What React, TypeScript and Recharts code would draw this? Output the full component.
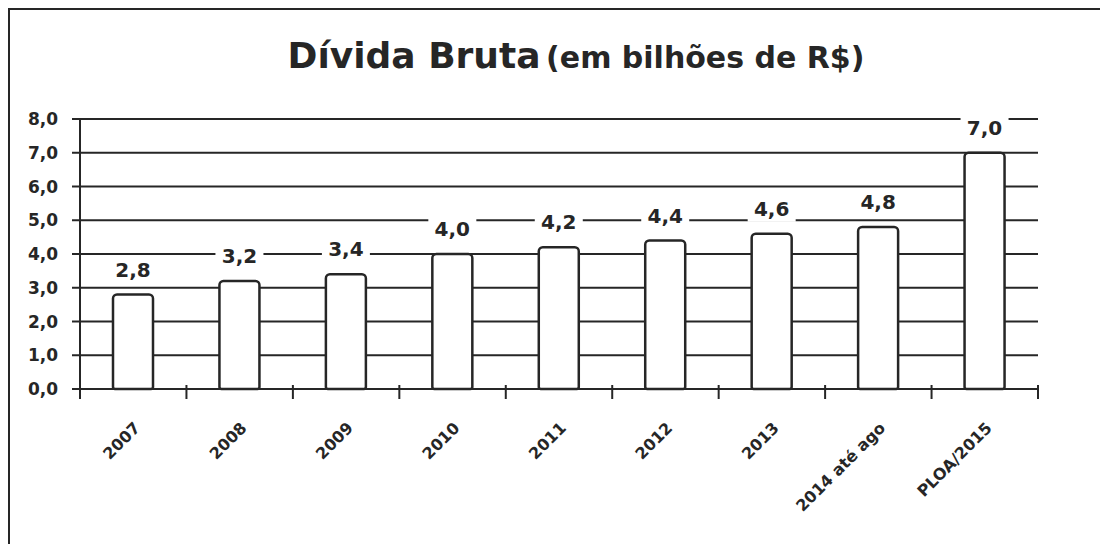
import React from "react";
import {
    ComposedChart,
    Bar,
    XAxis,
    YAxis,
    CartesianGrid,
    LabelList,
} from "recharts";

const periods = [
    "2007",
    "2008",
    "2009",
    "2010",
    "2011",
    "2012",
    "2013",
    "2014 até ago",
    "PLOA/2015",
];
const dividaBruta = [2.8, 3.2, 3.4, 4.0, 4.2, 4.4, 4.6, 4.8, 7.0];
const yTicks = [0, 1, 2, 3, 4, 5, 6, 7, 8];

const data = periods.map((p, i) => ({ periodo: p, valor: dividaBruta[i] }));

const INK = "#262626";
const FONT = "'DejaVu Sans', sans-serif";
const W = 1092;
const H = 536;
const M = { top: 111, right: 62, bottom: 0, left: 0 };
const Y_W = 72;
const X_H = 155;

const fmt = (v: number) => v.toFixed(1).replace(".", ",");

// ticks sit on the category boundaries, labels are slanted under each bar
const XTick = (props: any) => {
    const { x, y, payload, index } = props;
    const step = (W - M.left - M.right - Y_W) / periods.length;
    const left = x - step / 2;
    const ax = y - 4;
    const tx = x + 8;
    const ty = ax + 38;
    return (
        <g>
            <line x1={left} y1={ax - 6} x2={left} y2={ax + 8} stroke={INK} strokeWidth={2} />
            {index === periods.length - 1 && (
                <line x1={left + step} y1={ax - 6} x2={left + step} y2={ax + 8} stroke={INK} strokeWidth={2} />
            )}
            <text
                x={tx}
                y={ty}
                transform={`rotate(-45 ${tx} ${ty})`}
                textAnchor="end"
                fontFamily={FONT}
                fontWeight={700}
                fontSize={16}
                fill={INK}
            >
                {payload.value}
            </text>
        </g>
    );
};

const ValueLabel = (props: any) => {
    const { x, y, width, value } = props;
    const cx = x + width / 2;
    const base = y - 18;
    return (
        <g>
            <rect x={cx - 24} y={base - 18} width={48} height={24} fill="#fff" />
            <text
                x={cx}
                y={base}
                textAnchor="middle"
                fontFamily={FONT}
                fontWeight={700}
                fontSize={20}
                fill={INK}
            >
                {fmt(value)}
            </text>
        </g>
    );
};

export default function App() {
    return (
        <div
            style={{
                position: "relative",
                width: W,
                height: H,
                background: "#fff",
                borderTop: `2px solid ${INK}`,
                borderLeft: `2px solid ${INK}`,
                boxSizing: "border-box",
            }}
        >
            <div
                style={{
                    position: "absolute",
                    top: 28,
                    left: 0,
                    width: "100%",
                    paddingLeft: 42,
                    boxSizing: "border-box",
                    textAlign: "center",
                    fontFamily: FONT,
                    fontWeight: 700,
                    color: INK,
                    whiteSpace: "nowrap",
                    lineHeight: 1,
                }}
            >
                <span style={{ fontSize: 36 }}>Dívida Bruta</span>{" "}
                <span style={{ fontSize: 30 }}>(em bilhões de R$)</span>
            </div>
            <div style={{ position: "absolute", top: -2, left: -2 }}>
                <ComposedChart width={W} height={H} data={data} margin={M}>
                    <CartesianGrid
                        vertical={false}
                        stroke={INK}
                        strokeWidth={2}
                        strokeOpacity={1}
                    />
                    <XAxis
                        dataKey="periodo"
                        height={X_H}
                        interval={0}
                        tickLine={false}
                        tickMargin={0}
                        axisLine={{ stroke: INK, strokeWidth: 2 }}
                        tick={<XTick />}
                    />
                    <YAxis
                        width={Y_W}
                        domain={[0, 8]}
                        ticks={yTicks}
                        tickFormatter={fmt}
                        tickSize={8}
                        tickMargin={14}
                        tickLine={{ stroke: INK, strokeWidth: 2 }}
                        axisLine={{ stroke: INK, strokeWidth: 2 }}
                        tick={{
                            fill: INK,
                            fontFamily: FONT,
                            fontWeight: 700,
                            fontSize: 17,
                        }}
                    />
                    <Bar
                        dataKey="valor"
                        barSize={40}
                        fill="#fff"
                        stroke={INK}
                        strokeWidth={2.5}
                        radius={[4, 4, 2, 2]}
                        isAnimationActive={false}
                    >
                        <LabelList dataKey="valor" content={<ValueLabel />} />
                    </Bar>
                </ComposedChart>
            </div>
        </div>
    );
}
